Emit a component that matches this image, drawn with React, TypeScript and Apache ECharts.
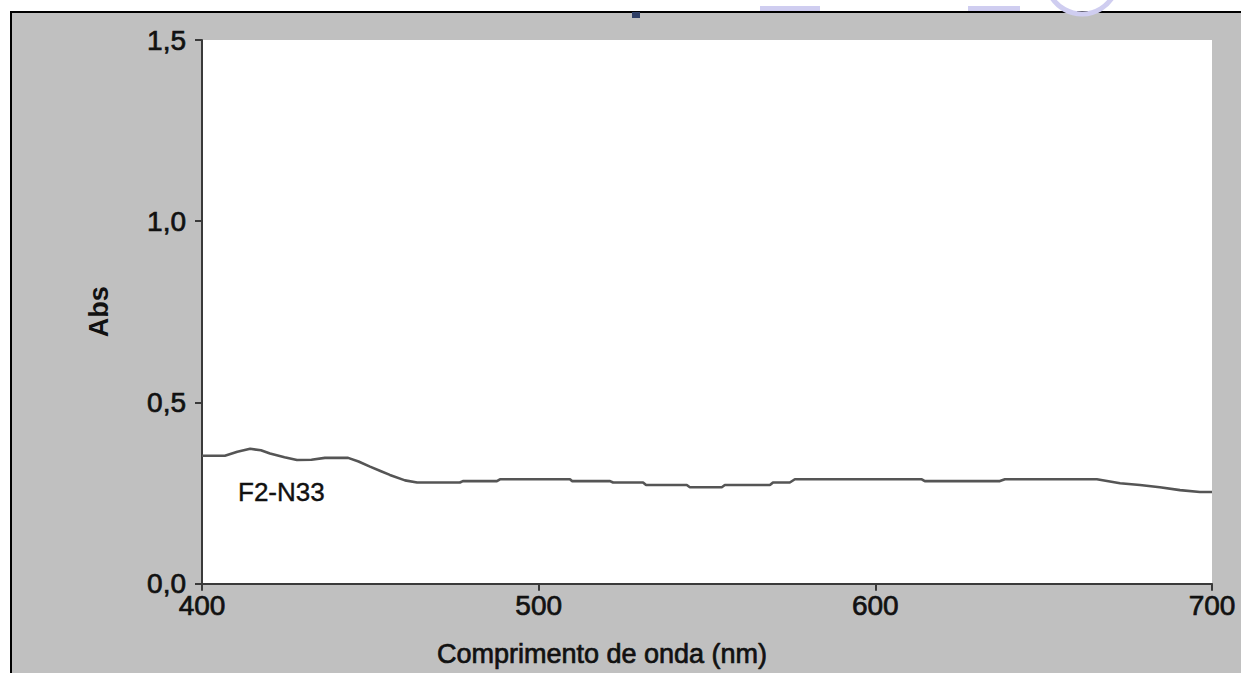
import React, { useEffect, useRef } from "react";
import * as echarts from "echarts";

// Wavelength (nm) and absorbance
const wavelengths = [
  400, 406.8, 410.5, 414.3, 417.5, 420.2, 424.5, 428.2, 432.5, 436.5, 443.4, 446.5,
  449.9, 453, 455.8, 460.3, 463.9, 476.6, 477.5, 487.6, 488.5, 509.3, 509.9, 521.2,
  522.1, 531.0, 531.9, 544.0, 544.9, 554.4, 555.3, 568.7, 569.6, 574.6, 576.1, 593.9,
  601.4, 613.8, 614.7, 637.0, 638.5, 665.8, 672.7, 678.6, 684.5, 690.5, 696.4, 700,
];
const absorbance = [
  0.353, 0.353, 0.364, 0.372, 0.368, 0.359, 0.349, 0.341, 0.342, 0.347, 0.347, 0.337,
  0.323, 0.311, 0.300, 0.285, 0.279, 0.279, 0.283, 0.283, 0.288, 0.288, 0.283, 0.283,
  0.279, 0.279, 0.272, 0.272, 0.266, 0.266, 0.272, 0.272, 0.279, 0.279, 0.288, 0.288,
  0.288, 0.288, 0.283, 0.283, 0.288, 0.288, 0.277, 0.272, 0.266, 0.258, 0.253, 0.253,
];
const seriesName = "F2-N33";
const xTitle = "Comprimento de onda (nm)";
const yTitle = "Abs";

export default function App() {
  const ref = useRef<HTMLDivElement>(null);

  useEffect(() => {
    if (!ref.current) return;
    const chart = echarts.init(ref.current, undefined, { renderer: "svg" });
    const font = "'Liberation Sans', Arial, sans-serif";
    const heavy = { textBorderColor: "#111", textBorderWidth: 0.7 };
    const lavender = "#cfcdf0";
    chart.setOption({
      animation: false,
      backgroundColor: "transparent",
      grid: {
        left: 202,
        top: 40,
        width: 1010,
        height: 552,
        show: true,
        backgroundColor: "#ffffff",
        borderWidth: 0,
      },
      xAxis: {
        type: "value",
        min: 400,
        max: 700,
        interval: 100,
        axisLine: { show: true, lineStyle: { color: "#3a3a3a", width: 2 } },
        axisTick: { show: true, length: 7, lineStyle: { color: "#3a3a3a", width: 2 } },
        axisLabel: { fontSize: 28, color: "#111", margin: 8, fontFamily: font, ...heavy },
        splitLine: { show: false },
        name: xTitle,
        nameLocation: "middle",
        nameGap: 57,
        nameTextStyle: {
          fontSize: 27,
          color: "#111",
          fontFamily: font,
          padding: [0, 210, 0, 0],
          ...heavy,
        },
      },
      yAxis: {
        type: "value",
        min: 0,
        max: 1.5,
        interval: 0.5,
        axisLine: { show: true, lineStyle: { color: "#3a3a3a", width: 2 } },
        axisTick: { show: true, length: 7, lineStyle: { color: "#3a3a3a", width: 2 } },
        axisLabel: {
          fontSize: 28,
          color: "#111",
          margin: 16,
          fontFamily: font,
          formatter: (v: number) => v.toFixed(1).replace(".", ","),
          ...heavy,
        },
        splitLine: { show: false },
        name: yTitle,
        nameLocation: "middle",
        nameGap: 90,
        nameTextStyle: { fontSize: 27, color: "#111", fontFamily: font, fontWeight: "bold" },
      },
      graphic: [
        {
          type: "text",
          x: 238,
          y: 492,
          style: {
            text: seriesName,
            fontSize: 26,
            fontFamily: font,
            fill: "#111",
            verticalAlign: "middle",
            stroke: "#111",
            lineWidth: 0.4,
          },
        },
        {
          type: "rect",
          shape: { x: 760, y: 6, width: 60, height: 5 },
          style: { fill: lavender },
        },
        {
          type: "rect",
          shape: { x: 968, y: 6, width: 52, height: 5 },
          style: { fill: lavender },
        },
        {
          type: "arc",
          shape: { cx: 1082, cy: -22, r: 36, startAngle: 0.5, endAngle: 2.6 },
          style: { stroke: lavender, lineWidth: 5, fill: "none" },
        },
        {
          type: "rect",
          shape: { x: 632, y: 12, width: 8, height: 6 },
          style: { fill: "#2f3f66" },
        },
      ],
      series: [
        {
          type: "line",
          name: seriesName,
          data: wavelengths.map((w, i) => [w, absorbance[i]]),
          symbol: "none",
          lineStyle: { color: "#555555", width: 2.6 },
        },
      ],
    });
    return () => chart.dispose();
  }, []);

  return (
    <div
      style={{
        position: "absolute",
        left: 0,
        top: 0,
        width: 1241,
        height: 673,
        background: "#ffffff",
        overflow: "hidden",
      }}
    >
      <div
        style={{
          position: "absolute",
          left: 10,
          top: 11,
          width: 1231,
          height: 662,
          background: "#c0c0c0",
          borderTop: "2px solid #000",
          borderLeft: "2px solid #000",
          boxSizing: "border-box",
        }}
      />
      <div ref={ref} style={{ position: "absolute", left: 0, top: 0, width: 1241, height: 673 }} />
    </div>
  );
}
